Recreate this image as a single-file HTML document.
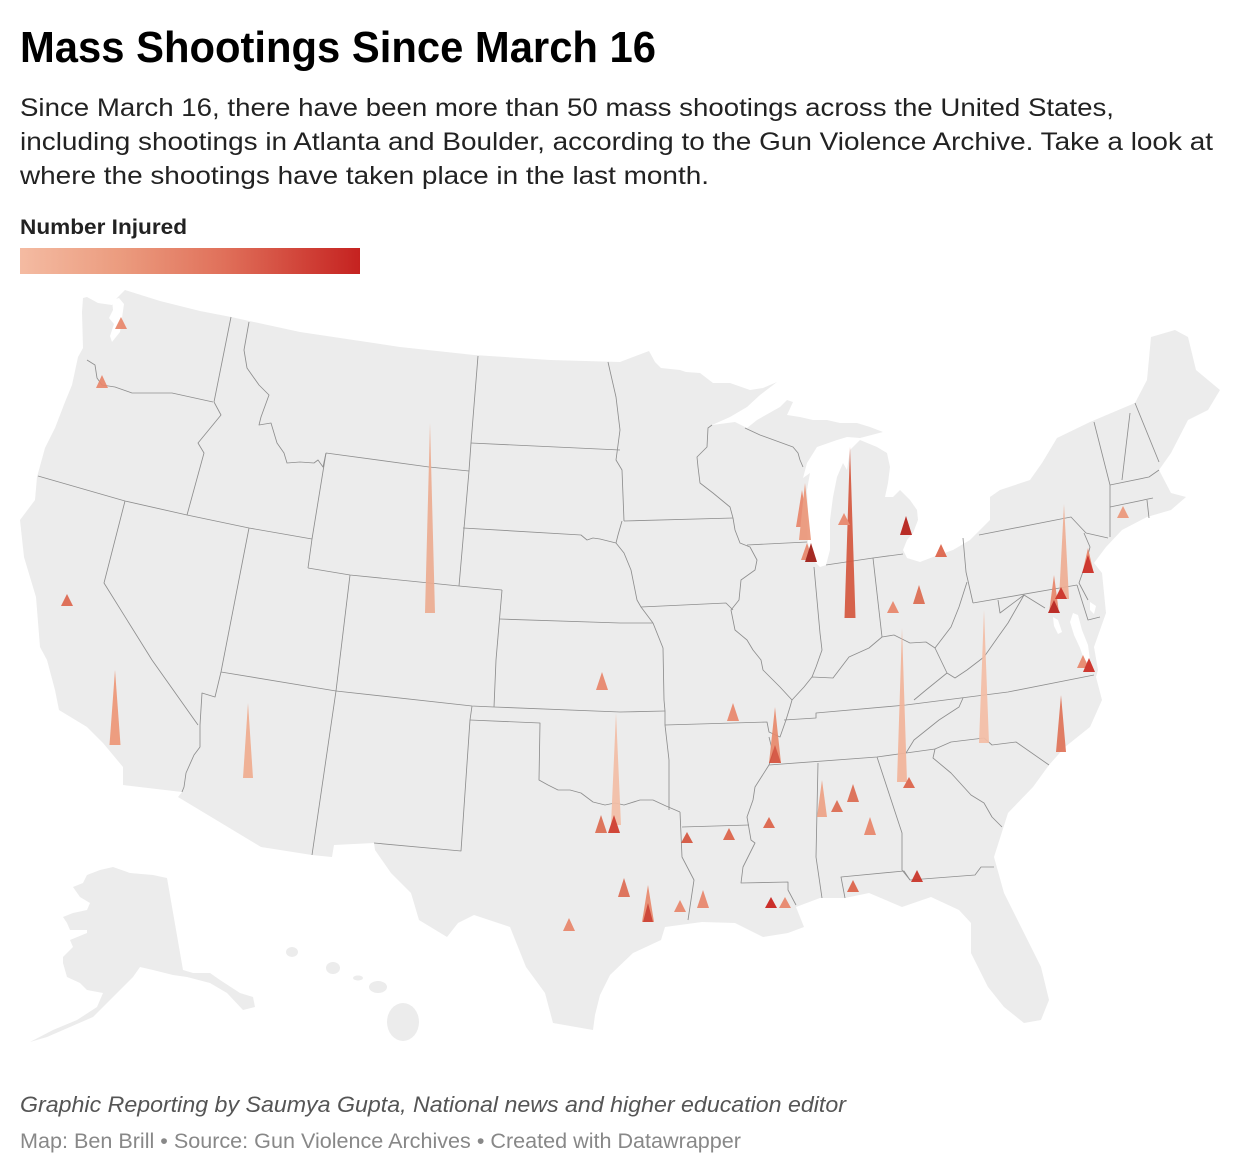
<!DOCTYPE html>
<html>
<head>
<meta charset="utf-8">
<style>
html,body{margin:0;padding:0;background:#fff;}
svg{display:block;}
</style>
</head>
<body>
<svg width="1240" height="1176" viewBox="0 0 1240 1176" xmlns="http://www.w3.org/2000/svg">
<defs>
<linearGradient id="lg" x1="0" y1="0" x2="1" y2="0">
<stop offset="0" stop-color="#f4bba2"/>
<stop offset="0.3" stop-color="#eb9b7e"/>
<stop offset="0.6" stop-color="#e0705a"/>
<stop offset="1" stop-color="#c52220"/>
</linearGradient>
</defs>
<rect width="1240" height="1176" fill="#fff"/>

<text x="20" y="62" font-family="Liberation Sans, sans-serif" font-weight="bold" font-size="44" fill="#000" textLength="636" lengthAdjust="spacingAndGlyphs">Mass Shootings Since March 16</text>
<g font-family="Liberation Sans, sans-serif" font-size="25" fill="#222">
<text x="20" y="116" textLength="1094" lengthAdjust="spacingAndGlyphs">Since March 16, there have been more than 50 mass shootings across the United States,</text>
<text x="20" y="150" textLength="1193" lengthAdjust="spacingAndGlyphs">including shootings in Atlanta and Boulder, according to the Gun Violence Archive. Take a look at</text>
<text x="20" y="184" textLength="689" lengthAdjust="spacingAndGlyphs">where the shootings have taken place in the last month.</text>
</g>
<text x="20" y="234" font-family="Liberation Sans, sans-serif" font-weight="bold" font-size="21" fill="#222" textLength="167" lengthAdjust="spacingAndGlyphs">Number Injured</text>
<rect x="20" y="248" width="340" height="26" fill="url(#lg)"/>

<!-- Map -->
<g fill="#ececec" stroke="none">
<path d="M83,298 L87,297 L98,303 L112,305 L115,300 L125,290 L160,301 L200,311 L231,317 L300,332 L400,347 L474,355 L550,360 L620,362 L649,351 L655,362 L661,368 L680,370 L686,372 L700,373 L713,383 L730,383 L750,390 L763,388 L777,382 L760,395 L747,407 L730,417 L712,425 L735,422 L747,428 L757,420 L780,407 L787,400 L793,402 L787,415 L800,417 L813,420 L827,420 L840,423 L857,423 L870,427 L883,432 L860,438 L847,437 L837,440 L817,447 L807,463 L803,478 L810,473 L807,490 L808,510 L807,527 L808,543 L813,560 L820,567 L826,565 L830,550 L830,520 L833,497 L837,477 L843,463 L847,470 L850,450 L860,440 L877,447 L887,453 L890,467 L888,483 L885,497 L893,497 L900,490 L910,500 L917,510 L918,520 L913,533 L907,540 L903,550 L907,558 L920,562 L933,557 L953,550 L970,540 L980,530 L990,520 L990,497 L1000,490 L1030,480 L1042,463 L1057,438 L1090,422 L1135,403 L1147,380 L1151,337 L1175,330 L1188,337 L1196,370 L1220,390 L1208,410 L1188,420 L1171,453 L1159,470 L1171,493 L1186,497 L1171,510 L1147,517 L1122,530 L1106,547 L1094,563 L1102,573 L1106,613 L1094,647 L1098,670 L1096,677 L1102,700 L1090,727 L1065,747 L1049,765 L1033,787 L1008,813 L994,857 L1004,893 L1024,933 L1041,967 L1049,1000 L1041,1020 L1024,1023 L1004,1007 L988,987 L971,953 L971,923 L959,910 L931,897 L902,907 L869,893 L845,898 L820,898 L796,907 L804,927 L788,933 L763,937 L735,923 L702,922 L665,927 L661,940 L633,953 L610,975 L600,995 L595,1015 L593,1030 L553,1023 L545,993 L526,967 L510,927 L474,915 L458,923 L447,937 L419,920 L411,893 L391,873 L375,850 L374,843 L334,845 L332,857 L312,855 L261,847 L178,797 L182,792 L123,785 L123,767 L103,743 L87,727 L59,710 L55,690 L47,660 L40,647 L36,597 L24,557 L20,520 L35,500 L37,477 L45,448 L55,428 L65,402 L72,385 L78,357 L83,348 L82,312 Z"/>
<!-- Alaska -->
<path d="M87,875 L100,870 L113,867 L130,873 L153,875 L167,878 L183,970 L193,973 L210,973 L220,980 L240,993 L253,997 L255,1007 L243,1010 L227,993 L210,983 L187,977 L173,975 L153,970 L140,967 L133,977 L120,990 L107,1003 L93,1017 L70,1027 L47,1037 L30,1042 L53,1030 L77,1020 L97,1007 L103,993 L87,990 L80,983 L67,977 L63,963 L63,957 L73,947 L70,940 L87,933 L87,930 L70,930 L67,923 L63,917 L73,913 L87,910 L90,903 L80,897 L73,887 L83,883 Z"/>
<!-- Hawaii -->
<ellipse cx="292" cy="952" rx="6" ry="5"/>
<ellipse cx="333" cy="968" rx="7" ry="6"/>
<ellipse cx="358" cy="978" rx="5" ry="2.5"/>
<ellipse cx="378" cy="987" rx="9" ry="6"/>
<ellipse cx="403" cy="1022" rx="16" ry="19"/>
</g>
<!-- Chesapeake / bays -->
<g fill="#fff">
<path d="M1073,613 L1078,615 L1082,630 L1088,645 L1090,660 L1085,662 L1080,648 L1074,635 L1070,622 Z"/>
<path d="M1053,617 L1058,620 L1062,632 L1058,634 L1054,626 Z"/>
<path d="M1090,602 L1096,606 L1094,614 L1090,610 Z"/>
<path d="M112,300 L119,298 L124,304 L122,318 L120,332 L112,342 L110,336 L114,324 L109,318 L113,310 Z"/>
</g>

<!-- State borders -->
<g fill="none" stroke="#8e8e8e" stroke-width="0.85" stroke-linejoin="round">
<polyline points="87,360 95,365 97,378 102,385 115,387 132,393 145,393 172,393 213,402"/>
<polyline points="231,317 214,402"/>
<polyline points="214,402 221,415 198,443 204,453 187,515"/>
<polyline points="38,476 125,501 187,515 249,528 312,539"/>
<polyline points="249,322 244,350 247,368 259,385 269,395 261,417 259,425 271,423 277,443 284,453 287,463 300,462 314,463 318,460 323,467 326,453"/>
<polyline points="326,453 312,539 308,568"/>
<polyline points="326,453 429,467 469,471"/>
<polyline points="478,356 471,443 469,471 459,586"/>
<polyline points="471,443 620,450"/>
<polyline points="463,528 581,535 587,540 593,538 600,539 616,543"/>
<polyline points="308,568 350,575 459,586 502,590"/>
<polyline points="350,575 336,691"/>
<polyline points="502,590 496,660 494,707"/>
<polyline points="500,619 620,623 653,623"/>
<polyline points="249,528 221,672"/>
<polyline points="125,501 104,583 152,660 198,725"/>
<polyline points="221,672 215,697 202,693 200,725 200,747 194,755 186,773 184,787 182,792"/>
<polyline points="221,672 336,691"/>
<polyline points="336,691 312,855"/>
<polyline points="336,691 472,706 494,707 620,712 665,711"/>
<polyline points="472,706 470,720 461,851 374,843"/>
<polyline points="470,720 540,723 539,780 548,785 558,790 570,790 581,793 593,802 605,805 615,803 624,805 640,800 653,800 666,806 680,812"/>
<polyline points="608,362 616,397 620,430 616,460 622,470 624,521"/>
<polyline points="624,521 733,518"/>
<polyline points="622,521 618,535 616,543 624,553 631,570 637,600 641,607 653,623"/>
<polyline points="641,607 726,603 733,610"/>
<polyline points="653,623 663,648 664,700 665,711 665,725 669,760 669,810"/>
<polyline points="665,725 767,722 769,732 780,737 786,720"/>
<polyline points="712,425 708,428 707,447 697,457 698,467 700,483 713,493 730,507 733,518"/>
<polyline points="745,428 760,435 793,447 798,453 800,460 803,467"/>
<polyline points="747,545 807,542"/>
<polyline points="733,518 735,530 740,543 750,547 757,560 755,570 741,580 739,600 731,610 735,630 747,640 753,650 761,660 763,670 780,687 792,700 790,707 786,720"/>
<polyline points="814,567 820,633 822,650 816,667 812,677"/>
<polyline points="873,558 882,637"/>
<polyline points="826,565 873,558 903,554"/>
<polyline points="792,700 804,687 812,677 833,678 849,657 869,648 882,637 894,635 910,643 926,642 935,648 951,627 959,607 967,582"/>
<polyline points="963,538 966,572 973,603"/>
<polyline points="979,535 1071,517 1086,533"/>
<polyline points="973,603 1077,585"/>
<polyline points="998,600 1000,613 1024,595 1045,608"/>
<polyline points="1024,595 1008,623 998,637 984,657 967,670 955,678 947,673 935,648"/>
<polyline points="947,673 926,690 914,700"/>
<polyline points="784,720 816,718 816,713 906,705 1008,692 1094,675"/>
<polyline points="963,698 959,707 939,720 914,740 906,753"/>
<polyline points="769,765 877,757 906,753 935,749"/>
<polyline points="935,749 951,742 984,738 992,745 1016,742 1049,765"/>
<polyline points="935,749 933,758 951,773 971,795 984,803 992,817 1002,827"/>
<polyline points="877,757 902,833 902,870 910,880"/>
<polyline points="818,763 816,857 822,898"/>
<polyline points="845,898 841,877 904,871 910,880 975,875 981,867 994,867"/>
<polyline points="769,765 755,787 753,800 747,817 751,840 755,843 743,867 741,883 788,882 788,890 796,905"/>
<polyline points="769,737 773,753 769,765"/>
<polyline points="682,827 749,825"/>
<polyline points="680,812 682,857 694,880 688,920"/>
<polyline points="1094,422 1110,485 1110,537"/>
<polyline points="1110,485 1149,477 1159,470"/>
<polyline points="1130,413 1122,480"/>
<polyline points="1135,403 1159,462"/>
<polyline points="1110,507 1153,498"/>
<polyline points="1147,500 1149,518"/>
<polyline points="1084,533 1090,547 1086,563 1079,583 1088,600"/>
<polyline points="1077,585 1088,620 1100,617"/>
<polyline points="1086,533 1108,538"/>
</g>

<!-- Spikes -->
<g opacity="0.92">
<polygon points="115,329 121,317 127,329" fill="#e8866a"/>
<polygon points="96,388 102,375 108,388" fill="#e8866a"/>
<polygon points="61,606 67,594 73,606" fill="#dc664d"/>
<polygon points="109.5,745 115,670 120.5,745" fill="#ed9676"/>
<polygon points="243,778 248,703 253,778" fill="#efab8e"/>
<polygon points="425,613 430,423 435,613" fill="#ebab90"/>
<polygon points="596,690 602,672 608,690" fill="#e8866a"/>
<polygon points="611,825 616,713 621,825" fill="#f3bea6"/>
<polygon points="595,833 601,815 607,833" fill="#dc6b50"/>
<polygon points="608,833 614,815 620,833" fill="#cf3a2a"/>
<polygon points="618,897 624,878 630,897" fill="#dd6b52"/>
<polygon points="642,922 648,885 654,922" fill="#e8896c"/>
<polygon points="643,922 648,903 653,922" fill="#cc3b2b"/>
<polygon points="563,931 569,918 575,931" fill="#e8866a"/>
<polygon points="674,912 680,900 686,912" fill="#e8866a"/>
<polygon points="697,908 703,890 709,908" fill="#e8866a"/>
<polygon points="765,908 771,897 777,908" fill="#c91f1a"/>
<polygon points="779,908 785,897 791,908" fill="#e8866a"/>
<polygon points="681,843 687,832 693,843" fill="#d5553e"/>
<polygon points="723,840 729,828 735,840" fill="#dc6248"/>
<polygon points="763,828 769,817 775,828" fill="#dc6248"/>
<polygon points="727,721 733,703 739,721" fill="#e8866a"/>
<polygon points="769,763 775,707 781,763" fill="#e88a6d"/>
<polygon points="769,763 775,745 781,763" fill="#d5503c"/>
<polygon points="817,817 822,780 827,817" fill="#eea285"/>
<polygon points="831,812 837,800 843,812" fill="#dc6a50"/>
<polygon points="847,802 853,784 859,802" fill="#dc6a50"/>
<polygon points="864,835 870,817 876,835" fill="#e8866a"/>
<polygon points="897,782 902,628 907,782" fill="#f2b49a"/>
<polygon points="903,788 909,777 915,788" fill="#dc6248"/>
<polygon points="911,882 917,870 923,882" fill="#c93226"/>
<polygon points="847,892 853,880 859,892" fill="#dc6248"/>
<polygon points="979,743 984,610 989,743" fill="#f4bea6"/>
<polygon points="1056,752 1061,695 1066,752" fill="#e07358"/>
<polygon points="1077,668 1083,655 1089,668" fill="#e8866a"/>
<polygon points="1083,672 1089,658 1095,672" fill="#cc2a22"/>
<polygon points="796,527 802,490 808,527" fill="#e8866a"/>
<polygon points="799,540 805,483 811,540" fill="#eb977a"/>
<polygon points="801,560 807,543 813,560" fill="#e8866a"/>
<polygon points="805,562 811,543 817,562" fill="#9e1a12"/>
<polygon points="844.5,618 850,447 855.5,618" fill="#d5583f"/>
<polygon points="838,525 844,513 850,525" fill="#e8866a"/>
<polygon points="900,535 906,516 912,535" fill="#b51d17"/>
<polygon points="935,557 941,544 947,557" fill="#dd6248"/>
<polygon points="913,604 919,585 925,604" fill="#dc6b50"/>
<polygon points="887,613 893,601 899,613" fill="#e8866a"/>
<polygon points="1059,599 1064,504 1069,599" fill="#efae94"/>
<polygon points="1049,613 1054,575 1059,613" fill="#e8866a"/>
<polygon points="1055,599 1061,587 1067,599" fill="#cc2c22"/>
<polygon points="1048,613 1054,600 1060,613" fill="#b81e18"/>
<polygon points="1083,570 1088,548 1093,570" fill="#e8866a"/>
<polygon points="1082,573 1088,555 1094,573" fill="#cc2a22"/>
<polygon points="1117,518 1123,506 1129,518" fill="#eb977a"/>
</g>

<text x="20" y="1112" font-family="Liberation Sans, sans-serif" font-style="italic" font-size="22" fill="#555" textLength="826" lengthAdjust="spacingAndGlyphs">Graphic Reporting by Saumya Gupta, National news and higher education editor</text>
<text x="20" y="1148" font-family="Liberation Sans, sans-serif" font-size="21" fill="#888" textLength="721" lengthAdjust="spacingAndGlyphs">Map: Ben Brill • Source: Gun Violence Archives • Created with Datawrapper</text>
</svg>
</body>
</html>
